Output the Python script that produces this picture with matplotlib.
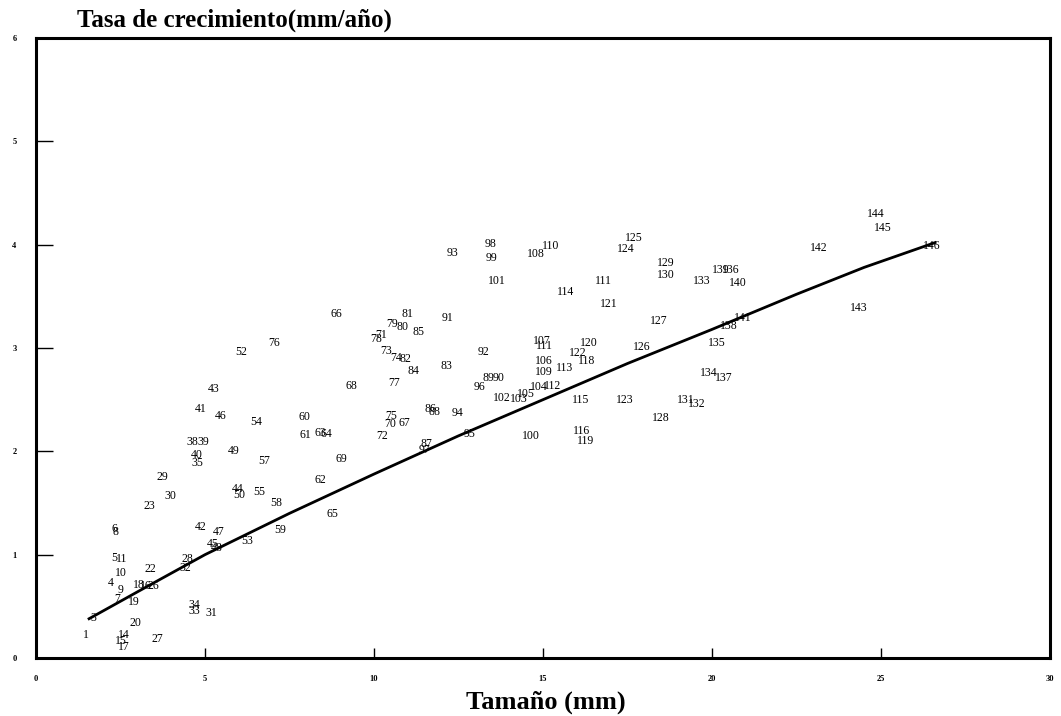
import matplotlib
matplotlib.use("Agg")
import matplotlib.pyplot as plt

# --- data: specimen id, size (mm), growth rate (mm/year) ---
ids = ["1", "3", "8", "6", "5", "11", "10", "4", "9", "7", "19", "20", "14", "17", "15",
       "27", "22", "18", "26", "16", "23", "29", "30", "28", "32", "34", "33", "31",
       "42", "47", "45", "48", "53", "43", "41", "46", "54", "38", "39", "40", "35",
       "49", "57", "44", "50", "55", "58", "59", "52", "76", "60", "61", "63", "64",
       "62", "65", "69", "66", "68", "78", "71", "73", "79", "80", "81", "85", "82",
       "74", "84", "77", "75", "70", "67", "72", "86", "88", "91", "83", "92", "89",
       "90", "96", "94", "95", "87", "97", "93", "98", "99", "101", "102", "103",
       "105", "104", "112", "100", "108", "110", "114", "107", "111x", "106", "109",
       "113", "120", "122", "118", "115", "116", "119", "123", "111", "121", "124",
       "125", "129", "130", "127", "126", "133", "139", "136", "140", "141", "138",
       "135", "134", "137", "131", "132", "128", "142", "143", "144", "145", "146"]
size = [1.48, 1.69, 2.34, 2.31, 2.31, 2.52, 2.51, 2.22, 2.49, 2.40, 2.90, 2.93, 2.60, 2.60, 2.51,
        3.58, 3.37, 3.05, 3.46, 3.25, 3.34, 3.73, 3.99, 4.47, 4.41, 4.67, 4.67, 5.18,
        4.88, 5.41, 5.24, 5.36, 6.24, 5.27, 4.88, 5.47, 6.51, 4.64, 4.94, 4.76, 4.76,
        5.86, 6.75, 5.98, 6.01, 6.60, 7.10, 7.22, 6.07, 7.04, 7.93, 7.96, 8.40, 8.58,
        8.40, 8.76, 9.02, 8.88, 9.32, 10.06, 10.21, 10.36, 10.53, 10.83, 10.98, 11.33, 10.92,
        10.66, 11.18, 10.59, 10.50, 10.47, 10.89, 10.24, 11.66, 11.80, 12.16, 12.13, 13.25, 13.40,
        13.70, 13.11, 12.46, 12.84, 11.54, 11.50, 12.31, 13.46, 13.49, 13.64, 13.79, 14.29,
        14.50, 14.88, 15.27, 14.64, 14.79, 15.24, 15.68, 14.97, 15.03, 15.03, 15.03,
        15.65, 16.36, 16.04, 16.30, 16.12, 16.15, 16.27, 17.43, 16.80, 16.95, 17.46,
        17.69, 18.64, 18.64, 18.43, 17.93, 19.70, 20.27, 20.56, 20.77, 20.92, 20.50,
        20.15, 19.91, 20.36, 19.23, 19.56, 18.49, 23.17, 24.35, 24.85, 25.06, 26.51]
rate = [0.22, 0.39, 1.22, 1.25, 0.97, 0.96, 0.82, 0.73, 0.66, 0.57, 0.54, 0.34, 0.22, 0.11, 0.16,
        0.18, 0.86, 0.71, 0.70, 0.70, 1.47, 1.75, 1.57, 0.96, 0.87, 0.51, 0.45, 0.44,
        1.27, 1.22, 1.10, 1.06, 1.13, 2.60, 2.41, 2.34, 2.28, 2.09, 2.09, 1.96, 1.89,
        2.00, 1.91, 1.64, 1.58, 1.61, 1.50, 1.24, 2.96, 3.05, 2.33, 2.16, 2.18, 2.17,
        1.72, 1.39, 1.93, 3.33, 2.63, 3.09, 3.13, 2.97, 3.23, 3.20, 3.33, 3.15, 2.89,
        2.90, 2.78, 2.66, 2.34, 2.26, 2.27, 2.15, 2.41, 2.38, 3.29, 2.83, 2.96, 2.71,
        2.71, 2.62, 2.37, 2.17, 2.07, 2.01, 3.92, 4.01, 3.87, 3.65, 2.52, 2.51,
        2.55, 2.62, 2.63, 2.15, 3.91, 3.99, 3.54, 3.07, 3.02, 2.87, 2.77,
        2.81, 3.05, 2.95, 2.87, 2.50, 2.20, 2.10, 2.50, 3.65, 3.43, 3.96,
        4.06, 3.82, 3.71, 3.26, 3.01, 3.65, 3.75, 3.75, 3.63, 3.29, 3.21,
        3.05, 2.76, 2.71, 2.50, 2.46, 2.32, 3.97, 3.39, 4.30, 4.16, 3.99]

# fitted curve
fit_x = [1.57, 3.0, 5.0, 7.5, 10.0, 12.5, 15.0, 17.5, 20.0, 22.5, 24.5, 26.6]
fit_y = [0.38, 0.64, 1.00, 1.40, 1.78, 2.15, 2.50, 2.85, 3.18, 3.52, 3.78, 4.02]

x_ticks = [0, 5, 10, 15, 20, 25, 30]
y_ticks = [0, 1, 2, 3, 4, 5, 6]

fig = plt.figure(figsize=(10.61, 7.16), dpi=100)
ax = fig.add_axes([36 / 1061, 1 - 658 / 716, (1050 - 36) / 1061, (658 - 38) / 716])
ax.set_xlim(0, 30)
ax.set_ylim(0, 6)

ax.plot(fit_x, fit_y, color="black", lw=2.0, zorder=2)
for lab, xv, yv in zip(ids, size, rate):
    ax.text(xv, yv, lab.rstrip("x"), ha="center", va="center", fontsize=8.5,
            family="Liberation Serif", color="black", zorder=3)

ax.set_xticks(x_ticks)
ax.set_yticks(y_ticks)
ax.set_xticklabels([str(v) for v in x_ticks], fontsize=6, fontweight="bold",
                   family="Liberation Serif")
ax.set_yticklabels([str(v) for v in y_ticks], fontsize=6, fontweight="bold",
                   family="Liberation Serif")
ax.tick_params(axis="x", direction="in", length=7, width=1, pad=12)
ax.tick_params(axis="y", direction="in", length=12, width=1, pad=14)
for s in ax.spines.values():
    s.set_linewidth(2.2)

fig.text(77 / 1061, 1 - 20 / 716, "Tasa de crecimiento(mm/año)", fontsize=18,
         fontweight="bold", family="Liberation Serif", ha="left", va="center")
fig.text(546 / 1061, 1 - 702 / 716, "Tamaño (mm)", fontsize=19,
         fontweight="bold", family="Liberation Serif", ha="center", va="center")

fig.savefig("out.png", dpi=100, facecolor="white")
